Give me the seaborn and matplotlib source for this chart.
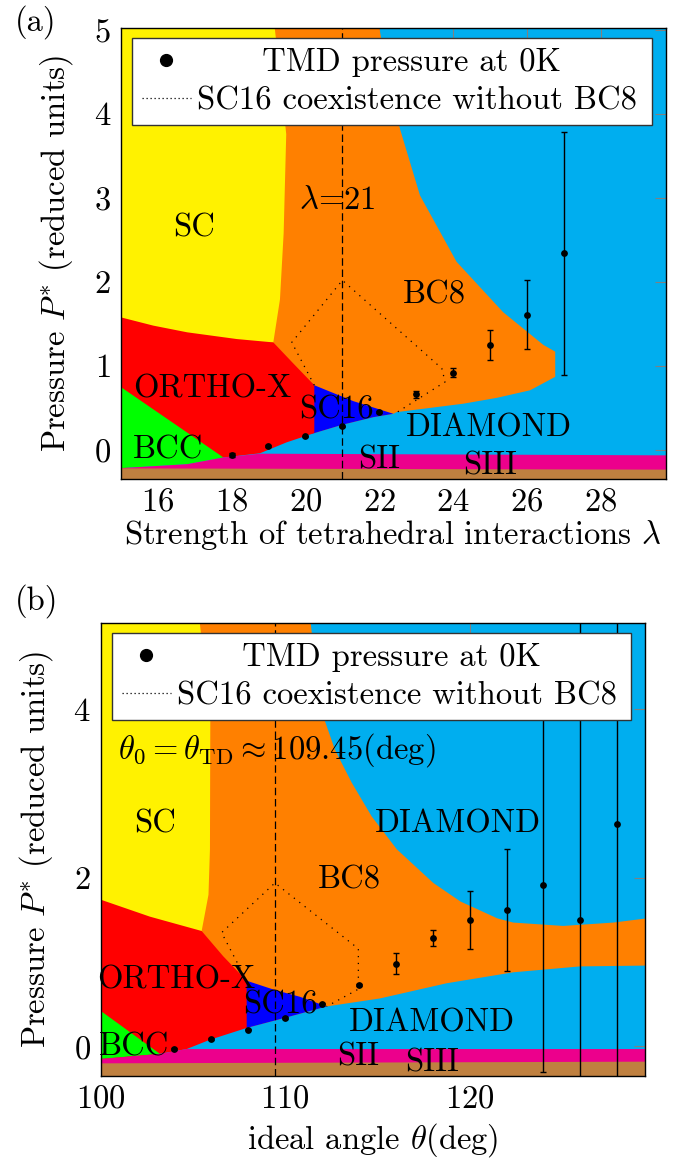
import matplotlib
matplotlib.use("Agg")
import matplotlib.pyplot as plt
import seaborn as sns
from matplotlib.lines import Line2D

# ---------------- data: TMD pressure points ----------------
lam = [18, 19, 20, 21, 22, 23, 24, 25, 26, 27]
lam_tmd_p = [-0.06, 0.05, 0.16, 0.28, 0.45, 0.66, 0.92, 1.25, 1.61, 2.34]
lam_tmd_err = [0.02, 0.01, 0.01, 0.01, 0.01, 0.04, 0.05, 0.18, 0.41, 1.45]

theta = [104, 106, 108, 110, 112, 114, 116, 118, 120, 122, 124, 126, 128]
theta_tmd_p = [-0.03, 0.09, 0.20, 0.34, 0.51, 0.73, 0.98, 1.29, 1.50, 1.62, 1.92, 1.50, 2.64]
theta_tmd_err = [0.01, 0.01, 0.01, 0.01, 0.01, 0.01, 0.125, 0.095, 0.34, 0.72, 2.22, 3.6, 3.2]

# ---------------- data: phase regions, panel (a) ----------------
a_bc8_x = [19.0, 21.97, 22.24, 22.56, 23.10, 24.09, 25.35, 26.44, 26.76, 26.76, 26.08, 25.18,
           24.27, 23.37, 22.47, 22.38, 21.84, 21.0, 20.24, 19.0]
a_bc8_p = [5.1, 5.1, 4.42, 3.82, 3.03, 2.24, 1.64, 1.25, 1.17, 0.87, 0.71, 0.62,
           0.55, 0.50, 0.45, 0.43, 0.39, 0.30, 0.20, 1.28]
a_sc_x = [14.9, 19.15, 19.3, 19.48, 19.41, 19.31, 19.13, 14.9]
a_sc_p = [5.1, 5.1, 4.5, 3.76, 2.58, 1.79, 1.28, 1.28]
a_sc16_x = [20.0, 20.24, 21.3, 22.38, 21.84, 21.0, 20.24, 20.0]
a_sc16_p = [0.85, 0.77, 0.58, 0.43, 0.39, 0.30, 0.20, 0.18]
a_ortho_x = [14.9, 15.88, 16.8, 18.14, 19.13, 19.67, 20.24, 20.24, 19.49, 18.77, 17.78, 14.9]
a_ortho_p = [1.59, 1.48, 1.40, 1.32, 1.28, 1.03, 0.77, 0.20, 0.09, -0.04, -0.09, -0.22]
a_bcc_x = [14.9, 14.9, 17.78, 16.8]
a_bcc_p = [-0.22, 0.78, -0.09, -0.17]
a_sii_x = [14.9, 16.8, 17.78, 18.77, 29.85, 29.85, 14.9]
a_sii_p = [-0.22, -0.17, -0.09, -0.045, -0.065, -0.4, -0.4]
a_siii_x = [14.9, 29.85, 29.85, 14.9]
a_siii_p = [-0.22, -0.235, -0.4, -0.4]
a_dot_x = [20.24, 19.63, 21.0, 23.69, 23.78, 22.45]
a_dot_p = [0.77, 1.28, 2.02, 0.97, 0.81, 0.44]

# ---------------- data: phase regions, panel (b) ----------------
b_bc8_x = [105.0, 111.35, 111.7, 112.16, 112.70, 113.61, 114.69, 116.05, 118.03, 119.5, 120.5,
           121.5, 122.36, 125.07, 127.78, 129.6, 129.6, 125.97, 122.36, 118.75, 115.14,
           112.25, 109.99, 107.92, 105.0]
b_bc8_p = [5.1, 5.1, 4.4, 3.86, 3.52, 3.13, 2.73, 2.34, 1.94, 1.72, 1.62,
           1.52, 1.47, 1.43, 1.47, 1.52, 0.96, 0.95, 0.88, 0.75, 0.57,
           0.475, 0.34, 0.22, 1.37]
b_sc_x = [99.9, 105.34, 105.6, 105.95, 105.93, 105.85, 105.48, 99.9]
b_sc_p = [5.1, 5.1, 4.6, 4.0, 2.34, 1.8, 1.37, 1.37]
b_sc16_x = [107.8, 107.92, 109.45, 110.8, 112.25, 109.99, 107.92, 107.8]
b_sc16_p = [0.79, 0.78, 0.67, 0.59, 0.475, 0.34, 0.22, 0.22]
b_ortho_x = [99.9, 102.68, 105.48, 106.65, 107.92, 107.92, 105.93, 104.67, 103.22, 99.9]
b_ortho_p = [1.75, 1.54, 1.37, 1.07, 0.78, 0.22, 0.08, -0.03, -0.087, -0.20]
b_bcc_x = [99.9, 99.9, 103.22, 101.5]
b_bcc_p = [-0.15, 0.44, -0.087, -0.12]
b_sii_x = [99.9, 101.5, 103.22, 104.67, 129.6, 129.6, 99.9]
b_sii_p = [-0.15, -0.12, -0.087, -0.03, -0.03, -0.4, -0.4]
b_siii_x = [99.9, 129.6, 129.6, 99.9]
b_siii_p = [-0.20, -0.18, -0.4, -0.4]
b_dot_x = [107.92, 106.56, 109.45, 113.97, 113.97, 112.25]
b_dot_p = [0.78, 1.35, 1.94, 1.16, 0.68, 0.475]

# ---------------- styling ----------------
COL = {"diamond": "#00AEEF", "bc8": "#FF8000", "sc": "#FFF200", "sc16": "#0000FF",
       "ortho": "#FF0000", "bcc": "#00FF00", "sii": "#EC008C", "siii": "#BF8040"}
FS = 23.5

sns.set_style("white")
plt.rcParams["font.family"] = ["cmr10", "DejaVu Serif"]
plt.rcParams["mathtext.fontset"] = "cm"
plt.rcParams["axes.unicode_minus"] = False
plt.rcParams["axes.formatter.use_mathtext"] = True
plt.rcParams["text.color"] = "black"
plt.rcParams["axes.labelcolor"] = "black"
plt.rcParams["xtick.labelcolor"] = "black"
plt.rcParams["ytick.labelcolor"] = "black"

fig = plt.figure(figsize=(6.83, 11.6), dpi=100)
ax_a = fig.add_axes([120.7 / 683, 1 - 479.3 / 1160, 545 / 683, 451 / 1160])
ax_b = fig.add_axes([100.5 / 683, 1 - 1076 / 1160, 544.5 / 683, 452.7 / 1160])


def draw_regions(ax, regions):
    for (xs, ps, key) in regions:
        ax.fill(xs, ps, color=COL[key], lw=0, zorder=1)


def finish(ax, xlim, xticks, yticks, xlabel, xlab_y):
    ax.set_facecolor(COL["diamond"])
    ax.set_xlim(*xlim)
    ax.set_ylim(-0.35, 5.02)
    ax.set_xticks(xticks)
    ax.set_yticks(yticks)
    ax.tick_params(direction="in", length=8, width=0.8, color="#808080",
                   labelcolor="black", top=True, right=True, labelsize=FS)
    ax.tick_params(axis="x", pad=6)
    ax.tick_params(axis="y", pad=7)
    for s in ax.spines.values():
        s.set_color("black")
        s.set_linewidth(1.0)
        s.set_zorder(20)
    ax.set_xlabel(xlabel, fontsize=FS, color="black")
    ax.set_ylabel(r"Pressure $P^{*}$ (reduced units)", fontsize=FS, color="black")
    ax.yaxis.set_label_coords(-0.084, 0.5)
    ax.xaxis.set_label_coords(0.5, xlab_y)


def points(ax, xs, ps, errs):
    ax.errorbar(xs, ps, yerr=errs, fmt="none", ecolor="black", elinewidth=1.0,
                capsize=2.1, capthick=1.0, zorder=5)
    sns.scatterplot(x=xs, y=ps, ax=ax, color="black", s=24, linewidth=0, zorder=6, legend=False)


def legend(ax):
    h1 = Line2D([], [], marker="o", color="black", linestyle="none", markersize=8.5)
    h2 = Line2D([], [], color="black", linestyle=(0, (1, 2.2)), linewidth=0.9)
    leg = ax.legend([h1, h2], ["TMD pressure at 0K", "SC16 coexistence without BC8"],
                    loc="upper left", bbox_to_anchor=(0.021, 0.784, 0.954, 0.194),
                    mode="expand", borderaxespad=0, fontsize=FS, handlelength=1.5,
                    handletextpad=0.2, borderpad=0.3, labelspacing=0.28,
                    fancybox=False, framealpha=1, edgecolor="#333333")
    leg.get_frame().set_linewidth(1.0)
    leg.set_zorder(30)
    for t in leg.get_texts():
        t.set_color("black")
    return leg


# ---------------- panel (a) ----------------
draw_regions(ax_a, [(a_bc8_x, a_bc8_p, "bc8"), (a_sc_x, a_sc_p, "sc"),
                    (a_sc16_x, a_sc16_p, "sc16"), (a_ortho_x, a_ortho_p, "ortho"),
                    (a_bcc_x, a_bcc_p, "bcc"), (a_sii_x, a_sii_p, "sii"),
                    (a_siii_x, a_siii_p, "siii")])
ax_a.axvline(21, color="black", lw=0.9, ls=(0, (6, 3)), zorder=3)
ax_a.plot(a_dot_x, a_dot_p, color="black", lw=0.9, ls=(0, (1, 4.5)), zorder=3)
points(ax_a, lam, lam_tmd_p, lam_tmd_err)
for txt, x, y in [("SC", 16.99, 2.64), (r"$\lambda$=21", 20.85, 2.97), ("BC8", 23.49, 1.84),
                  ("ORTHO-X", 17.49, 0.73), ("SC16", 20.85, 0.47), ("DIAMOND", 24.97, 0.26),
                  ("BCC", 16.27, 0.0), ("SII", 22.0, -0.125), ("SIII", 24.99, -0.19)]:
    ax_a.text(x, y, txt, ha="center", va="center", fontsize=FS, zorder=4, color="black")
finish(ax_a, (15, 29.75), [16, 18, 20, 22, 24, 26, 28], [0, 1, 2, 3, 4, 5],
       r"Strength of tetrahedral interactions $\lambda$", -0.085)
leg_a = legend(ax_a)

# ---------------- panel (b) ----------------
draw_regions(ax_b, [(b_bc8_x, b_bc8_p, "bc8"), (b_sc_x, b_sc_p, "sc"),
                    (b_sc16_x, b_sc16_p, "sc16"), (b_ortho_x, b_ortho_p, "ortho"),
                    (b_bcc_x, b_bcc_p, "bcc"), (b_sii_x, b_sii_p, "sii"),
                    (b_siii_x, b_siii_p, "siii")])
ax_b.axvline(109.45, color="black", lw=0.9, ls=(0, (6, 3)), zorder=3)
ax_b.plot(b_dot_x, b_dot_p, color="black", lw=0.9, ls=(0, (1, 4.5)), zorder=3)
points(ax_b, theta, theta_tmd_p, theta_tmd_err)
for txt, x, y in [("SC", 102.95, 2.64), ("DIAMOND", 119.38, 2.64), ("BC8", 113.48, 1.97),
                  ("ORTHO-X", 104.1, 0.79), ("SC16", 109.77, 0.495), ("DIAMOND", 117.97, 0.28),
                  ("BCC", 101.8, -0.01), ("SII", 113.97, -0.12), ("SIII", 117.95, -0.2)]:
    ax_b.text(x, y, txt, ha="center", va="center", fontsize=FS, zorder=4, color="black")
ax_b.text(100.96, 3.52, r"$\theta_0=\theta_{\mathrm{TD}}\approx 109.45(\mathrm{deg})$",
          ha="left", va="center", fontsize=FS, zorder=4, color="black")
finish(ax_b, (100, 129.5), [100, 110, 120], [0, 2, 4],
       r"ideal angle $\theta$(deg)", -0.1)
leg_b = legend(ax_b)

fig.text(15 / 683, 1 - 22 / 1160, "(a)", ha="left", va="center", fontsize=FS, color="black")
fig.text(15 / 683, 1 - 601 / 1160, "(b)", ha="left", va="center", fontsize=FS, color="black")

# centre the first legend label like the reference (pad with spaces)
fig.canvas.draw()
renderer = fig.canvas.get_renderer()
for leg in (leg_a, leg_b):
    t0, t1 = leg.get_texts()
    w0 = t0.get_window_extent(renderer).width
    w1 = t1.get_window_extent(renderer).width
    base = t0.get_text()
    n = 0
    while n < 30:
        t0.set_text(" " * (n + 1) + base)
        w = t0.get_window_extent(renderer).width
        if w - w0 > (w1 - w0) / 2:
            t0.set_text(" " * n + base)
            break
        n += 1

fig.savefig("out.png", dpi=100)
